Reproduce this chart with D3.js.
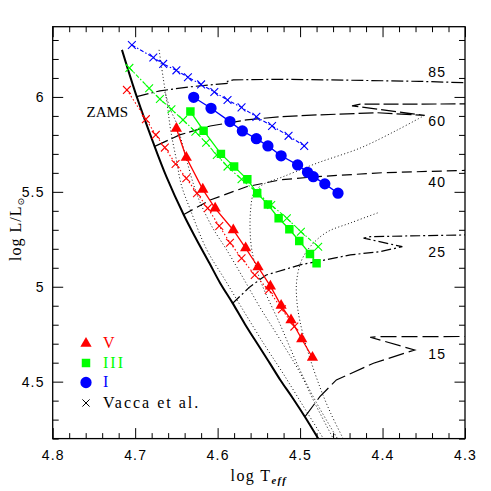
<!DOCTYPE html>
<html>
<head>
<meta charset="utf-8">
<script src="https://cdn.jsdelivr.net/npm/d3@7"></script>
<style>
  body { margin: 0; background: #fff; }
  text { font-family: "Liberation Serif", "DejaVu Serif", serif; fill: #000; }
  .num text, text.num { font-family: "Liberation Sans", Arial, sans-serif; }
</style>
</head>
<body>
<div id="grafico"></div>
<script>
/*************************** DATA ***************************/
var vermelho = '#ff0000';
var verde = '#00ff00';
var azul = '#0000ff';

// luminosity classes (log Teff, log L)
var tempV   = [4.650, 4.638, 4.618, 4.603, 4.581, 4.566, 4.551, 4.536, 4.523, 4.511, 4.498, 4.485];
var lumV    = [5.834, 5.681, 5.513, 5.413, 5.299, 5.204, 5.104, 5.003, 4.901, 4.825, 4.725, 4.627];
var tempIII = [4.633, 4.617, 4.596, 4.580, 4.564, 4.552, 4.539, 4.526, 4.513, 4.501, 4.488, 4.480];
var lumIII  = [5.923, 5.822, 5.700, 5.633, 5.566, 5.493, 5.433, 5.361, 5.303, 5.241, 5.173, 5.124];
var tempI   = [4.629, 4.608, 4.585, 4.570, 4.553, 4.539, 4.523, 4.503, 4.491, 4.484, 4.470, 4.454];
var lumI    = [5.998, 5.940, 5.870, 5.821, 5.780, 5.742, 5.690, 5.642, 5.603, 5.580, 5.542, 5.493];

// Vacca et al. calibrations
var vaccaTempV   = [4.710, 4.687, 4.675, 4.664, 4.651, 4.638, 4.625, 4.612, 4.598, 4.585, 4.571, 4.555, 4.538, 4.522, 4.507];
var vaccaLumV    = [6.037, 5.883, 5.800, 5.733, 5.647, 5.572, 5.493, 5.414, 5.320, 5.232, 5.150, 5.062, 4.983, 4.881, 4.790];
var vaccaTempIII = [4.707, 4.683, 4.670, 4.656, 4.642, 4.627, 4.614, 4.601, 4.588, 4.571, 4.553, 4.535, 4.516, 4.499, 4.478];
var vaccaLumIII  = [6.153, 6.046, 5.989, 5.935, 5.879, 5.817, 5.759, 5.694, 5.633, 5.566, 5.499, 5.431, 5.361, 5.290, 5.211];
var vaccaTempI   = [4.704, 4.678, 4.666, 4.650, 4.636, 4.620, 4.604, 4.588, 4.571, 4.553, 4.534, 4.514, 4.495];
var vaccaLumI    = [6.274, 6.208, 6.174, 6.140, 6.104, 6.066, 6.026, 5.984, 5.945, 5.895, 5.847, 5.795, 5.742];

// zero age main sequence
var zams = [[4.716,6.248],[4.698,6.000],[4.678,5.758],[4.662,5.579],[4.641,5.378],[4.626,5.252],[4.610,5.125],
            [4.597,5.020],[4.582,4.915],[4.567,4.804],[4.551,4.694],[4.537,4.599],[4.524,4.509],[4.509,4.414],
            [4.494,4.314],[4.478,4.200]];

// evolutionary tracks
var trilha85 = [[4.698,6.002],[4.670,6.032],[4.634,6.053],[4.603,6.066],[4.586,6.072],[4.588,6.082],[4.581,6.090],
                [4.524,6.093],[4.439,6.088],[4.355,6.082],[4.300,6.075]];
var trilha60 = [[4.677,5.738],[4.646,5.800],[4.609,5.847],[4.565,5.879],[4.524,5.896],[4.480,5.905],[4.407,5.917],
                [4.349,5.903],[4.437,5.953],[4.427,5.962],[4.300,5.963]];
var trilha40 = [[4.641,5.381],[4.609,5.457],[4.565,5.527],[4.524,5.563],[4.480,5.580],[4.399,5.601],[4.300,5.613]];
var trilha25 = [[4.582,4.912],[4.561,4.999],[4.541,5.062],[4.500,5.115],[4.439,5.168],[4.403,5.185],[4.376,5.211],
                [4.423,5.256],[4.415,5.264],[4.300,5.273]];
var trilha15 = [[4.494,4.316],[4.476,4.421],[4.456,4.509],[4.411,4.597],[4.361,4.667],[4.415,4.734],[4.406,4.737],
                [4.300,4.738]];
var massas = ['85', '60', '40', '25', '15'];

// isochrones
var isoA = [[4.671,6.248],[4.666,6.100],[4.661,5.958],[4.657,5.826],[4.650,5.668],[4.644,5.536],[4.633,5.405],
            [4.613,5.194],[4.591,5.036],[4.567,4.862],[4.543,4.693],[4.521,4.546],[4.497,4.377],[4.472,4.202]];
var isoB = [[4.664,6.026],[4.657,5.932],[4.649,5.852],[4.644,5.773],[4.636,5.642],[4.629,5.536],[4.621,5.442],
            [4.606,5.310],[4.589,5.194],[4.569,5.046],[4.549,4.894],[4.524,4.720],[4.500,4.546],[4.481,4.377],[4.460,4.202]];
var isoC = [[4.349,5.903],[4.382,5.826],[4.427,5.731],[4.479,5.652],[4.521,5.579],[4.546,5.536],[4.556,5.494],
            [4.560,5.405],[4.560,5.247],[4.556,5.141],[4.546,5.009],[4.524,4.799],[4.503,4.588],[4.482,4.404],[4.455,4.202]];
var isoD = [[4.406,5.389],[4.439,5.336],[4.467,5.289],[4.486,5.220],[4.498,5.141],[4.504,5.036],[4.504,4.930],
            [4.500,4.815],[4.490,4.651],[4.476,4.472],[4.463,4.335],[4.448,4.202]];

var ticksX = [4.8, 4.7, 4.6, 4.5, 4.4, 4.3];
var ticksY = [4.5, 5, 5.5, 6];

/*************************** DRAWING ***************************/
var esq = 52.7, dir = 465, topo = 26.7, base = 438.6;

var svg = d3.select('#grafico')
        .append('svg')
        .attr('width', 491)
        .attr('height', 491);

var x = d3.scaleLinear().domain([4.8, 4.3]).range([esq, dir]);
var y = d3.scaleLinear().domain([4.2, 6.37]).range([base, topo]);

svg.append('clipPath').attr('id', 'recorte')
    .append('rect')
    .attr('x', esq).attr('y', topo)
    .attr('width', dir - esq).attr('height', base - topo);

var linha = d3.line().x(function(d) { return x(d[0]); }).y(function(d) { return y(d[1]); });
var curva = d3.line().curve(d3.curveCatmullRom.alpha(0.5))
        .x(function(d) { return x(d[0]); }).y(function(d) { return y(d[1]); });

var plano = svg.append('g').attr('clip-path', 'url(#recorte)');

// isochrones (dotted)
[isoA, isoB, isoC, isoD].forEach(function(iso) {
    plano.append('path')
        .attr('d', curva(iso))
        .attr('fill', 'none')
        .attr('stroke', '#111')
        .attr('stroke-width', 1)
        .attr('stroke-dasharray', '1,2.4');
});

// tracks, each with its own dash pattern
var tracos = ['12,3,2,3', '15,4', '10,5', '10,3,2,3', '16,5'];
[trilha85, trilha60, trilha40, trilha25, trilha15].forEach(function(t, i) {
    plano.append('path')
        .attr('d', linha(t))
        .attr('fill', 'none')
        .attr('stroke', '#000')
        .attr('stroke-width', 1.2)
        .attr('stroke-dasharray', tracos[i]);
});

// ZAMS
plano.append('path')
    .attr('d', curva(zams))
    .attr('fill', 'none')
    .attr('stroke', '#000')
    .attr('stroke-width', 2);

// mass labels at the right side
var posMassas = [6.107, 5.847, 5.527, 5.159, 4.618];
svg.append('g').attr('class', 'num').selectAll('text')
    .data(massas)
    .enter()
    .append('text')
    .text(function(d) { return d; })
    .attr('x', x(4.3445))
    .attr('y', function(d, i) { return y(posMassas[i]); })
    .style('font-size', '14.5px')
    .style('letter-spacing', '1.3px');

var cruz = function(s) { return 'M' + (-s) + ',' + (-s) + 'L' + s + ',' + s + 'M' + (-s) + ',' + s + 'L' + s + ',' + (-s); };

// Vacca crosses and their connecting lines
function desenhaVacca(temps, lums, cor, traco) {
    var pts = d3.zip(temps, lums);
    plano.append('path')
        .attr('d', linha(pts))
        .attr('fill', 'none')
        .attr('stroke', cor)
        .attr('stroke-width', 1.1)
        .attr('stroke-dasharray', traco);
    plano.append('g').selectAll('path')
        .data(pts)
        .enter()
        .append('path')
        .attr('d', cruz(3.9))
        .attr('transform', function(d) { return 'translate(' + x(d[0]) + ',' + y(d[1]) + ')'; })
        .attr('stroke', cor)
        .attr('stroke-width', 1.1)
        .attr('fill', 'none');
}

// filled markers joined by a solid line
function desenhaSerie(temps, lums, cor, simbolo, tamanho) {
    var pts = d3.zip(temps, lums);
    plano.append('path')
        .attr('d', linha(pts))
        .attr('fill', 'none')
        .attr('stroke', cor)
        .attr('stroke-width', 1.3);
    plano.append('g').selectAll('path')
        .data(pts)
        .enter()
        .append('path')
        .attr('d', d3.symbol().type(simbolo).size(tamanho))
        .attr('transform', function(d) { return 'translate(' + x(d[0]) + ',' + y(d[1]) + ')'; })
        .attr('fill', cor);
}

desenhaVacca(vaccaTempV, vaccaLumV, vermelho, '1.5,2.2');
desenhaVacca(vaccaTempIII, vaccaLumIII, verde, '4,2,1.5,2');
desenhaVacca(vaccaTempI, vaccaLumI, azul, '4,2,1.5,2');

desenhaSerie(tempV, lumV, vermelho, d3.symbolTriangle, 55);
desenhaSerie(tempIII, lumIII, verde, d3.symbolSquare, 72);
desenhaSerie(tempI, lumI, azul, d3.symbolCircle, 100);

/*************************** AXES ***************************/
var menoresX = d3.range(0, 26).map(function(i) { return +(4.3 + i * 0.02).toFixed(2); })
        .filter(function(v) { return ticksX.indexOf(v) < 0; });
var menoresY = d3.range(42, 64).map(function(i) { return i / 10; })
        .filter(function(v) { return ticksY.indexOf(v) < 0; });

function eixo(g) {
    g.select('.domain').remove();
    g.selectAll('line').attr('stroke', '#000').attr('stroke-width', 1);
}

svg.append('g').attr('class', 'num').attr('transform', 'translate(0,' + base + ')')
    .call(d3.axisBottom(x).tickValues(ticksX).tickSize(-10.5).tickPadding(11.5).tickFormat(d3.format('.1f')))
    .call(eixo);
svg.append('g').attr('transform', 'translate(0,' + base + ')')
    .call(d3.axisBottom(x).tickValues(menoresX).tickSize(-5.5).tickFormat(''))
    .call(eixo);
svg.append('g').attr('transform', 'translate(0,' + topo + ')')
    .call(d3.axisTop(x).tickValues(ticksX).tickSize(-10.5).tickFormat(''))
    .call(eixo);
svg.append('g').attr('transform', 'translate(0,' + topo + ')')
    .call(d3.axisTop(x).tickValues(menoresX).tickSize(-5.5).tickFormat(''))
    .call(eixo);

svg.append('g').attr('class', 'num').attr('transform', 'translate(' + esq + ',0)')
    .call(d3.axisLeft(y).tickValues(ticksY).tickSize(-10.5).tickPadding(8).tickFormat(function(d) { return d; }))
    .call(eixo);
svg.append('g').attr('transform', 'translate(' + esq + ',0)')
    .call(d3.axisLeft(y).tickValues(menoresY).tickSize(-6).tickFormat(''))
    .call(eixo);
svg.append('g').attr('transform', 'translate(' + dir + ',0)')
    .call(d3.axisRight(y).tickValues(ticksY).tickSize(-10.5).tickFormat(''))
    .call(eixo);
svg.append('g').attr('transform', 'translate(' + dir + ',0)')
    .call(d3.axisRight(y).tickValues(menoresY).tickSize(-6).tickFormat(''))
    .call(eixo);

svg.selectAll('.num text')
    .style('font-size', '14px')
    .style('letter-spacing', '1.2px')
    .attr('fill', '#000');

// frame
svg.append('rect')
    .attr('x', esq).attr('y', topo)
    .attr('width', dir - esq).attr('height', base - topo)
    .attr('fill', 'none')
    .attr('stroke', '#000')
    .attr('stroke-width', 1.3);

// axis titles
var tituloX = svg.append('text')
    .attr('x', (esq + dir) / 2)
    .attr('y', 481)
    .attr('text-anchor', 'middle')
    .style('font-size', '16px')
    .style('letter-spacing', '1.4px');
tituloX.append('tspan').text('log T');
tituloX.append('tspan').text('eff')
    .attr('dy', 3)
    .style('font-size', '10.5px')
    .style('font-style', 'italic')
    .style('font-weight', 'bold');

var tituloY = svg.append('text')
    .attr('transform', 'translate(21,229) rotate(-90)')
    .attr('text-anchor', 'middle')
    .style('font-size', '16px')
    .style('letter-spacing', '1px');
tituloY.append('tspan').text('log L/L');
tituloY.append('tspan').text('\u2299')
    .attr('dy', 3)
    .style('font-family', '"DejaVu Sans", sans-serif')
    .style('font-size', '9px');

svg.append('text')
    .text('ZAMS')
    .attr('x', 86.5)
    .attr('y', 117)
    .style('font-size', '15px');

/*************************** LEGEND ***************************/
var legenda = [
    { nome: 'V', cor: vermelho, simbolo: d3.symbolTriangle, tamanho: 55 },
    { nome: 'III', cor: verde, simbolo: d3.symbolSquare, tamanho: 72 },
    { nome: 'I', cor: azul, simbolo: d3.symbolCircle, tamanho: 100 },
    { nome: 'Vacca et al.', cor: '#000', simbolo: null, tamanho: 0 }
];
var linhasLegenda = [343.5, 363, 382.5, 403];

var itens = svg.append('g').selectAll('g')
    .data(legenda)
    .enter()
    .append('g')
    .attr('transform', function(d, i) { return 'translate(86,' + linhasLegenda[i] + ')'; });

itens.append('path')
    .attr('d', function(d) { return d.simbolo ? d3.symbol().type(d.simbolo).size(d.tamanho)() : cruz(3.6); })
    .attr('fill', function(d) { return d.simbolo ? d.cor : 'none'; })
    .attr('stroke', function(d) { return d.simbolo ? 'none' : '#000'; })
    .attr('stroke-width', 1);

itens.append('text')
    .text(function(d) { return d.nome; })
    .attr('x', 17)
    .attr('y', 4.5)
    .attr('fill', function(d) { return d.cor; })
    .style('fill', function(d) { return d.cor; })
    .style('font-size', '16px')
    .style('letter-spacing', '2px');
</script>
</body>
</html>
